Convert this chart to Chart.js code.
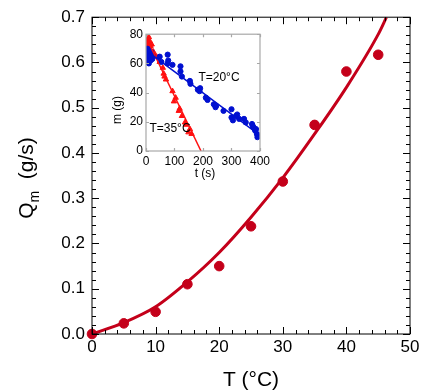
<!DOCTYPE html>
<html>
<head>
<meta charset="utf-8">
<script src="https://cdn.jsdelivr.net/npm/chart.js@4"></script>
<style>
  body { margin: 0; background: #fff; }
  #wrap { position: relative; width: 436px; height: 392px; }
  #main { position: absolute; left: 0; top: 0; }
  #inset { position: absolute; left: 105px; top: 24px; }
</style>
</head>
<body>
<div id="wrap">
  <canvas id="main" width="436" height="392"></canvas>
  <canvas id="inset" width="168" height="160"></canvas>
</div>
<script>
// main plot: mass flow rate vs temperature
const temps = [0, 5, 10, 15, 20, 25, 30, 35, 40, 45];
const flowRates = [0, 0.0235, 0.049, 0.110, 0.150, 0.238, 0.337, 0.462, 0.580, 0.617];
// fitted curve
const fitTemps = [0, 5, 10, 15, 20, 25, 30, 35, 40, 45, 46.3];
const fitRates = [0, 0.025, 0.060, 0.115, 0.180, 0.258, 0.345, 0.442, 0.545, 0.662, 0.70];

// inset: mass vs time
const blueTimes = [2, 3, 4, 5, 6, 8, 9, 10, 12, 14, 16, 18, 20, 22, 24, 48, 54, 76, 76, 78, 93, 121, 121, 126, 154, 156, 182, 188, 190, 210, 216, 238, 244, 246, 272, 300, 300, 305, 316, 320, 327, 344, 350, 372, 375, 378, 383, 386, 389, 391];
const blueMasses = [64, 68, 61, 66, 70, 63, 67, 60, 69, 65, 62, 68, 66, 63, 65, 64.6, 61, 66, 60, 62, 59, 58, 54.5, 51, 48, 46, 42, 41, 43, 36.5, 35, 32, 30, 31, 27.5, 28.6, 23, 21, 24, 25, 22, 22, 19.6, 18.5, 17, 16, 14, 15, 11.7, 9.5];
const redTimes = [2, 3, 4, 6, 8, 10, 12, 14, 16, 18, 20, 26, 30, 37, 48, 59, 62, 65, 70, 93, 98, 104, 115, 118, 126, 137, 140, 149, 154, 160];
const redMasses = [74, 77, 71, 76, 73, 78, 70, 75, 72, 69, 73, 68, 66, 64.6, 61, 57, 53, 51, 49, 41, 34, 36.5, 27.5, 29, 24, 19.6, 18, 12.8, 15, 11.7];
const blueFitT = [20, 400];
const blueFitM = [66, 10.6];
const redFitT = [5, 193];
const redFitM = [76, 0];

const mainRed = "#c4001a";
const pts = (xs, ys) => xs.map((x, i) => ({ x, y: ys[i] }));

// inward ticks on all four sides + frame
function frameTicks(opts) {
  return {
    id: "frameTicks",
    afterDatasetsDraw(chart) {
      const { ctx, chartArea: a } = chart;
      const xs = chart.scales.x, ys = chart.scales.y;
      ctx.save();
      ctx.strokeStyle = opts.color;
      ctx.lineWidth = opts.width;
      ctx.strokeRect(a.left, a.top, a.right - a.left, a.bottom - a.top);
      ctx.beginPath();
      for (let v = xs.min; v <= xs.max + 1e-9; v += opts.xMinor) {
        const major = Math.abs(v / opts.xMajor - Math.round(v / opts.xMajor)) < 1e-6;
        const len = major ? opts.major : opts.minor;
        const px = Math.round(xs.getPixelForValue(v)) + 0.5;
        ctx.moveTo(px, a.bottom); ctx.lineTo(px, a.bottom - len);
        ctx.moveTo(px, a.top); ctx.lineTo(px, a.top + len);
      }
      for (let v = ys.min; v <= ys.max + 1e-9; v += opts.yMinor) {
        const major = Math.abs(v / opts.yMajor - Math.round(v / opts.yMajor)) < 1e-6;
        const len = major ? opts.major : opts.minor;
        const py = Math.round(ys.getPixelForValue(v)) + 0.5;
        ctx.moveTo(a.left, py); ctx.lineTo(a.left + len, py);
        ctx.moveTo(a.right, py); ctx.lineTo(a.right - len, py);
      }
      ctx.stroke();
      ctx.restore();
    }
  };
}

const mainTitles = {
  id: "mainTitles",
  afterDraw(chart) {
    const ctx = chart.ctx;
    ctx.save();
    ctx.fillStyle = "#000";
    ctx.font = "21px 'Liberation Sans', Arial, sans-serif";
    ctx.textAlign = "center";
    ctx.textBaseline = "middle";
    ctx.fillText("T (°C)", 251, 380);

    // Q with subscript m, rotated
    ctx.translate(26, 178);
    ctx.rotate(-Math.PI / 2);
    ctx.textAlign = "left";
    ctx.textBaseline = "alphabetic";
    const big = "21px 'Liberation Sans', Arial, sans-serif";
    const small = "14px 'Liberation Sans', Arial, sans-serif";
    ctx.font = big; const wQ = ctx.measureText("Q").width;
    ctx.font = small; const wm = ctx.measureText("m").width;
    ctx.font = big; const wr = ctx.measureText("  (g/s)").width;
    let x = -(wQ + wm + wr) / 2;
    ctx.font = big; ctx.fillText("Q", x, 7); x += wQ;
    ctx.font = small; ctx.fillText("m", x, 13); x += wm;
    ctx.font = big; ctx.fillText("  (g/s)", x, 7);
    ctx.restore();
  }
};

new Chart(document.getElementById("main"), {
  type: "scatter",
  data: {
    datasets: [
      {
        data: pts(fitTemps, fitRates),
        showLine: true,
        borderColor: mainRed,
        borderWidth: 3,
        pointRadius: 0,
        cubicInterpolationMode: "monotone"
      },
      {
        data: pts(temps, flowRates),
        backgroundColor: mainRed,
        borderColor: mainRed,
        pointRadius: 4.8,
        clip: false
      }
    ]
  },
  options: {
    responsive: false,
    animation: false,
    layout: { padding: { top: 16, right: 26, left: 0, bottom: 0 } },
    plugins: { legend: { display: false }, tooltip: { enabled: false } },
    scales: {
      x: {
        type: "linear", min: 0, max: 50,
        grid: { display: false, drawTicks: false },
        border: { display: false },
        ticks: { stepSize: 10, color: "#000", padding: 3, font: { size: 17, family: "'Liberation Sans', Arial" } },
        afterFit: (s) => { s.height = 58; }
      },
      y: {
        min: 0, max: 0.7,
        grid: { display: false, drawTicks: false },
        border: { display: false },
        ticks: { stepSize: 0.1, color: "#000", padding: 7, font: { size: 17, family: "'Liberation Sans', Arial" },
          callback: (v) => v.toFixed(1) },
        afterFit: (s) => { s.width = 92; }
      }
    }
  },
  plugins: [frameTicks({ color: "#000", width: 1, xMajor: 10, xMinor: 2, yMajor: 0.1, yMinor: 0.02, major: 7, minor: 4 }), mainTitles]
});

const insetLabels = {
  id: "insetLabels",
  afterDraw(chart) {
    const { ctx } = chart;
    const xs = chart.scales.x, ys = chart.scales.y;
    ctx.save();
    ctx.fillStyle = "#000";
    ctx.font = "12px 'Liberation Sans', Arial, sans-serif";
    ctx.textBaseline = "middle";
    ctx.textAlign = "left";
    ctx.fillText("T=20°C", xs.getPixelForValue(184), ys.getPixelForValue(50));
    ctx.fillText("T=35°C", xs.getPixelForValue(12), ys.getPixelForValue(15.1));
    ctx.textAlign = "center";
    ctx.fillText("t (s)", 100, 150);
    ctx.translate(13, 86);
    ctx.rotate(-Math.PI / 2);
    ctx.fillText("m (g)", 0, 0);
    ctx.restore();
  }
};

new Chart(document.getElementById("inset"), {
  type: "scatter",
  data: {
    datasets: [
      { data: pts(blueFitT, blueFitM), showLine: true, borderColor: "#0010d0", borderWidth: 1.5, pointRadius: 0 },
      { data: pts(redFitT, redFitM), showLine: true, borderColor: "#ff1010", borderWidth: 1.5, pointRadius: 0 },
      { data: pts(blueTimes, blueMasses), backgroundColor: "#0010d0", borderColor: "#0010d0", pointRadius: 2.6 },
      { data: pts(redTimes, redMasses), pointStyle: "triangle", backgroundColor: "#ff1010", borderColor: "#ff1010", pointRadius: 3.1 }
    ]
  },
  options: {
    responsive: false,
    animation: false,
    layout: { padding: { top: 8, right: 8, left: 0, bottom: 0 } },
    plugins: { legend: { display: false }, tooltip: { enabled: false } },
    scales: {
      x: {
        type: "linear", min: 0, max: 400,
        grid: { display: false, drawTicks: false },
        border: { display: false },
        ticks: { stepSize: 100, color: "#000", padding: 3, font: { size: 12, family: "'Liberation Sans', Arial" } },
        afterFit: (s) => { s.height = 33; }
      },
      y: {
        min: 0, max: 80,
        grid: { display: false, drawTicks: false },
        border: { display: false },
        ticks: { stepSize: 20, color: "#000", padding: 3, font: { size: 12, family: "'Liberation Sans', Arial" } },
        afterFit: (s) => { s.width = 41; }
      }
    }
  },
  plugins: [frameTicks({ color: "#a8a8a8", width: 1.2, xMajor: 100, xMinor: 100, yMajor: 20, yMinor: 20, major: 3, minor: 3 }), insetLabels]
});
</script>
</body>
</html>
